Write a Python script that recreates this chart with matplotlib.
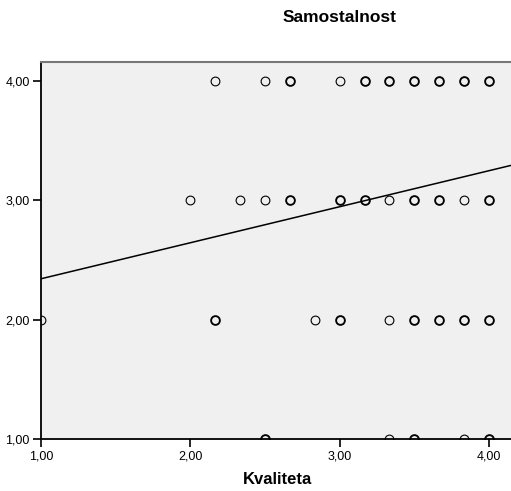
import matplotlib.pyplot as plt
from matplotlib.ticker import FuncFormatter
import numpy as np

plt.rcParams['font.family'] = ['Liberation Sans', 'DejaVu Sans']

# data: kvaliteta (x), samostalnost (y), and whether the circle looks
# overplotted (thicker ring = several cases on the same spot)
kval_4 = [2.1667, 2.5, 2.6667, 3.0, 3.1667, 3.3333, 3.5, 3.6667, 3.8333, 4.0]
multi_4 = [0, 0, 1, 0, 1, 1, 1, 1, 1, 1]
kval_3 = [2.0, 2.3333, 2.5, 2.6667, 3.0, 3.1667, 3.3333, 3.5, 3.6667, 3.8333, 4.0]
multi_3 = [0, 0, 0, 1, 1, 1, 0, 1, 1, 0, 1]
kval_2 = [1.0, 2.1667, 2.8333, 3.0, 3.3333, 3.5, 3.6667, 3.8333, 4.0]
multi_2 = [0, 1, 0, 1, 0, 1, 1, 1, 1]
kval_1 = [2.5, 3.3333, 3.5, 3.8333, 4.0]
multi_1 = [1, 0, 1, 0, 1]

# fit line (linear)
fit_intercept = 2.041
fit_slope = 0.302

ticks = [1.0, 2.0, 3.0, 4.0]

fig = plt.figure(figsize=(5.11, 4.91), dpi=100)
ax = fig.add_axes([41/511, 1 - 439/491, 1 - 41/511, (439 - 62)/491])
ax.set_facecolor('#f0f0f0')

rows = [(kval_4, multi_4, 4.0), (kval_3, multi_3, 3.0), (kval_2, multi_2, 2.0), (kval_1, multi_1, 1.0)]
for xs, ms, yv in rows:
    for x, m in zip(xs, ms):
        ax.plot(x, yv, 'o', mfc='none', mec='black', ms=6.3,
                mew=1.35 if m else 0.8, zorder=3)

xmin, xmax = 1.0, 4.147
xl = np.array([xmin, xmax])
ax.plot(xl, fit_intercept + fit_slope * xl, color='black', lw=1.1, zorder=2)

ax.set_xlim(xmin, xmax)
ax.set_ylim(1.0, 4.16)
ax.set_xticks(ticks)
ax.set_yticks(ticks)
fmt = FuncFormatter(lambda v, p: ('%.2f' % v).replace('.', ','))
ax.xaxis.set_major_formatter(fmt)
ax.yaxis.set_major_formatter(fmt)
ax.tick_params(direction='out', length=6, width=1.2, labelsize=9, colors='black', pad=2)

ax.spines['right'].set_visible(False)
ax.spines['top'].set_color('#777777')
ax.spines['top'].set_linewidth(1.5)
ax.spines['left'].set_linewidth(1.3)
ax.spines['bottom'].set_linewidth(1.3)

fig.text(340/511, 1 - 18/491, 'Samostalnost', ha='center', va='center',
         fontsize=12.5, fontweight='bold')
fig.text(277/511, 1 - 480/491, 'Kvaliteta', ha='center', va='center',
         fontsize=12, fontweight='bold')

plt.savefig('out.png', dpi=100)
